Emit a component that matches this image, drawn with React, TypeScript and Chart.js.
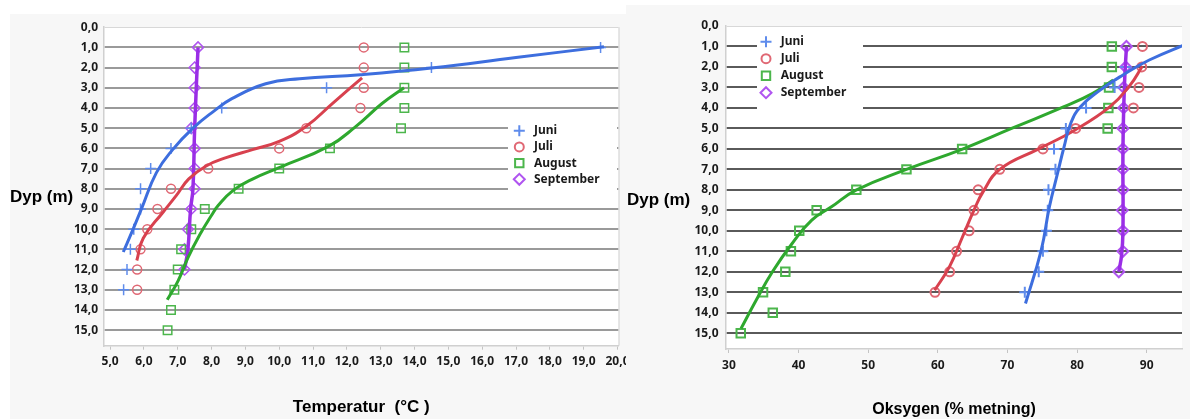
import React, { useEffect, useRef } from 'react';
import { Chart, registerables } from 'chart.js';

Chart.register(...registerables);

// ---------------- data ----------------
const depths = [1, 2, 3, 4, 5, 6, 7, 8, 9, 10, 11, 12, 13, 14, 15];
const months = ['Juni', 'Juli', 'August', 'September'];

// Temperature (°C) measurements per depth
const tempJuni = [19.5, 14.5, 11.4, 8.3, 7.4, 6.8, 6.2, 5.9, 5.9, 5.7, 5.6, 5.5, 5.4, null, null];
const tempJuli = [12.5, 12.5, 12.5, 12.4, 10.8, 10.0, 7.9, 6.8, 6.4, 6.1, 5.9, 5.8, 5.8, null, null];
const tempAugust = [13.7, 13.7, 13.7, 13.7, 13.6, 11.5, 10.0, 8.8, 7.8, 7.4, 7.1, 7.0, 6.9, 6.8, 6.7];
const tempSeptember = [7.6, 7.5, 7.5, 7.5, 7.4, 7.5, 7.5, 7.5, 7.4, 7.3, 7.2, 7.2, null, null, null];

// Temperature trend curves (value, depth)
const tempJuniFitT = [19.6, 17.0, 14.5, 12.4, 10.6, 9.6, 8.6, 8.04, 7.45, 6.85, 6.37, 5.93, 5.69, 5.39];
const tempJuniFitD = [0.97, 1.5, 2.02, 2.35, 2.55, 2.8, 3.54, 4.19, 5.0, 6.06, 7.2, 8.98, 9.96, 11.13];
const tempJuliFitT = [12.45, 11.57, 10.79, 10.0, 9.21, 8.43, 7.84, 7.32, 6.96, 6.57, 5.98, 5.79];
const tempJuliFitD = [2.51, 3.78, 4.92, 5.65, 6.06, 6.46, 6.87, 7.52, 8.33, 9.15, 10.45, 11.55];
const tempAugustFitT = [13.69, 13.04, 12.26, 11.47, 10.0, 9.21, 8.63, 8.2, 8.0, 7.65, 7.3, 7.01, 6.69];
const tempAugustFitD = [3.0, 3.78, 4.92, 5.89, 6.95, 7.52, 8.09, 8.82, 9.31, 10.28, 11.42, 12.56, 13.5];
const tempSeptemberFitT = [7.6, 7.5, 7.45, 7.38, 7.3, 7.2];
const tempSeptemberFitD = [1.0, 5.0, 8.0, 9.0, 11.0, 12.0];

// Oxygen (% saturation) measurements per depth
const oxyJuni = [null, 87.0, 85.4, 81.3, 78.4, 76.7, 76.9, 75.9, 75.8, 75.6, 75.1, 74.5, 72.5, null, null];
const oxyJuli = [89.4, 89.3, 88.9, 88.1, 79.8, 75.1, 68.9, 65.8, 65.2, 64.5, 62.7, 61.7, 59.6, null, null];
const oxyAugust = [85.0, 85.0, 84.6, 84.5, 84.4, 63.5, 55.5, 48.3, 42.6, 40.1, 38.9, 38.1, 34.9, 36.3, 31.7];
const oxySeptember = [87.1, 87.0, 86.7, 86.7, 86.6, 86.6, 86.6, 86.6, 86.5, 86.6, 86.6, 86.0, null, null, null];

// Oxygen trend curves (value, depth)
const oxyJuniFitO = [96.0, 90.38, 86.61, 83.32, 80.5, 79.1, 78.14, 77.2, 76.03, 74.86, 72.6];
const oxyJuniFitD = [0.84, 1.66, 2.39, 3.13, 3.94, 4.75, 5.9, 7.2, 8.83, 10.94, 13.55];
const oxyJuliFitO = [89.4, 87.6, 84.74, 79.6, 74.5, 68.9, 66.5, 65.2, 63.56, 61.67, 59.55];
const oxyJuliFitD = [1.95, 2.9, 3.94, 5.1, 6.0, 7.0, 8.1, 8.99, 10.29, 11.76, 12.9];
const oxyAugustFitO = [85.2, 82.2, 78.14, 70.6, 63.46, 55.5, 48.26, 44.73, 41.9, 39.08, 36.25, 33.91, 31.74];
const oxyAugustFitD = [2.64, 3.3, 3.94, 5.0, 6.02, 7.0, 8.01, 8.83, 9.48, 10.62, 12.0, 13.39, 14.77];
const oxySeptemberFitO = [87.1, 86.8, 86.6, 86.6, 86.4, 86.0];
const oxySeptemberFitD = [1.0, 3.0, 6.0, 10.0, 11.2, 12.0];

// ---------------- styles ----------------
const markerColors = ['#5f8cec', '#e06874', '#4cb64c', '#b055f0'];
const lineColors = ['#3d6ede', '#d8414e', '#2ea82e', '#9a2ee6'];
const styles = ['cross', 'circle', 'rect', 'rectRot'];
const markerRadius = [5.5, 4.5, 6, 5.5];

const tickFont = { family: '"Noto Sans", "DejaVu Sans", sans-serif', size: 12, weight: 'bold' as const };
const comma1 = (v: any) => Number(v).toFixed(1).replace('.', ',');

function pts(vals: (number | null)[]) {
  const out: { x: number; y: number }[] = [];
  vals.forEach((v, i) => {
    if (v !== null) out.push({ x: v, y: depths[i] });
  });
  return out;
}
function fit(xs: number[], ds: number[]) {
  return xs.map((x, i) => ({ x, y: ds[i] }));
}

function drawSymbol(ctx: CanvasRenderingContext2D, style: string, x: number, y: number, color: string, lw: number) {
  ctx.save();
  ctx.strokeStyle = color;
  ctx.lineWidth = lw;
  ctx.beginPath();
  if (style === 'cross') {
    ctx.moveTo(x - 5.5, y); ctx.lineTo(x + 5.5, y);
    ctx.moveTo(x, y - 5.5); ctx.lineTo(x, y + 5.5);
  } else if (style === 'circle') {
    ctx.arc(x, y, 4.5, 0, Math.PI * 2);
  } else if (style === 'rect') {
    ctx.rect(x - 4.2, y - 4.2, 8.4, 8.4);
  } else {
    ctx.moveTo(x - 5.5, y); ctx.lineTo(x, y - 5.5); ctx.lineTo(x + 5.5, y); ctx.lineTo(x, y + 5.5); ctx.closePath();
  }
  ctx.stroke();
  ctx.restore();
}

type Decor = { box: number[]; symX: number; textX: number; y0: number; dy: number; rightLine: boolean };

function decorPlugin(d: Decor) {
  return {
    id: 'decor',
    beforeDraw(chart: any) {
      const { ctx, chartArea: a } = chart;
      ctx.save();
      ctx.fillStyle = '#ffffff';
      ctx.fillRect(a.left, a.top, a.right - a.left, a.bottom - a.top);
      ctx.restore();
    },
    afterDraw(chart: any) {
      const { ctx, chartArea: a } = chart;
      ctx.save();
      if (d.rightLine) {
        ctx.strokeStyle = '#d0d0d0';
        ctx.lineWidth = 1;
        ctx.beginPath();
        ctx.moveTo(a.right + 0.5, a.top);
        ctx.lineTo(a.right + 0.5, a.bottom);
        ctx.stroke();
      }
      ctx.fillStyle = '#ffffff';
      ctx.fillRect(d.box[0], d.box[1], d.box[2], d.box[3]);
      months.forEach((m, i) => {
        const y = d.y0 + i * d.dy;
        drawSymbol(ctx, styles[i], d.symX, y, markerColors[i], 2);
        ctx.fillStyle = '#1a1a1a';
        ctx.font = 'bold 12px "Noto Sans", "DejaVu Sans", sans-serif';
        ctx.textBaseline = 'middle';
        ctx.textAlign = 'left';
        ctx.fillText(m, d.textX, y);
      });
      ctx.restore();
    },
  };
}

function buildDatasets(measured: (number | null)[][], fits: { x: number; y: number }[][], markerBw: number) {
  const ds: any[] = [];
  fits.forEach((f, i) => {
    ds.push({
      label: months[i] + ' trend',
      data: f,
      showLine: true,
      borderColor: lineColors[i],
      borderWidth: i === 3 ? 3.5 : 3,
      pointRadius: 0,
      tension: 0.45,
      fill: false,
      order: 1,
    });
  });
  measured.forEach((vals, i) => {
    ds.push({
      label: months[i],
      data: pts(vals),
      showLine: false,
      pointStyle: styles[i],
      pointRadius: markerRadius[i],
      pointBorderColor: markerColors[i],
      pointBackgroundColor: 'rgba(0,0,0,0)',
      pointBorderWidth: markerBw,
      order: 2,
    });
  });
  return ds;
}

function yScale(width: number, gridDark: string, pad: number) {
  return {
    type: 'linear',
    position: 'left',
    reverse: true,
    min: 0,
    max: 15.77,
    ticks: { stepSize: 1, includeBounds: false, autoSkip: false, callback: comma1, font: tickFont, color: '#1a1a1a', padding: pad },
    grid: {
      drawTicks: false,
      color: (c: any) => (c.tick && c.tick.value === 0 ? '#d8d8d8' : gridDark),
      lineWidth: (c: any) => (c.tick && c.tick.value === 0 ? 1 : 2),
    },
    border: { color: '#d0d0d0', width: 1.5 },
    afterFit: (s: any) => { s.width = width; },
  };
}

function tempConfig(): any {
  return {
    type: 'scatter',
    data: {
      datasets: buildDatasets(
        [tempJuni, tempJuli, tempAugust, tempSeptember],
        [fit(tempJuniFitT, tempJuniFitD), fit(tempJuliFitT, tempJuliFitD), fit(tempAugustFitT, tempAugustFitD), fit(tempSeptemberFitT, tempSeptemberFitD)],
        1.5
      ),
    },
    options: {
      animation: false,
      responsive: false,
      events: [],
      layout: { padding: { left: 0, right: 4.5, top: 8.5, bottom: 0 } },
      plugins: { legend: { display: false }, tooltip: { enabled: false } },
      scales: {
        x: {
          type: 'linear',
          position: 'bottom',
          min: 4.82,
          max: 20.03,
          ticks: { stepSize: 1, includeBounds: false, autoSkip: false, maxRotation: 0, callback: comma1, font: tickFont, color: '#1a1a1a', padding: 5 },
          grid: { drawOnChartArea: false, drawTicks: true, tickLength: 4, color: '#c4c4c4' },
          border: { color: '#d0d0d0', width: 1.5 },
          title: {
            display: true,
            text: 'Temperatur  (°C )',
            color: '#000',
            font: { family: '"Liberation Sans", Arial, sans-serif', size: 17, weight: 'bold' },
            padding: { top: 0, bottom: 1.8 },
          },
          afterFit: (s: any) => { s.height = 73.3; s.paddingLeft = 0; s.paddingRight = 0; },
        },
        y: yScale(94, '#9a9a9a', 6),
      },
    },
    plugins: [decorPlugin({ box: [498, 106, 109, 70], symX: 509.3, textX: 524, y0: 116.7, dy: 16.2, rightLine: true })],
  };
}

function oxyConfig(): any {
  return {
    type: 'scatter',
    data: {
      datasets: buildDatasets(
        [oxyJuni, oxyJuli, oxyAugust, oxySeptember],
        [fit(oxyJuniFitO, oxyJuniFitD), fit(oxyJuliFitO, oxyJuliFitD), fit(oxyAugustFitO, oxyAugustFitD), fit(oxySeptemberFitO, oxySeptemberFitD)],
        2
      ),
    },
    options: {
      animation: false,
      responsive: false,
      events: [],
      layout: { padding: { left: 0, right: 0, top: 21, bottom: 0 } },
      plugins: { legend: { display: false }, tooltip: { enabled: false } },
      scales: {
        x: {
          type: 'linear',
          position: 'bottom',
          min: 29.58,
          max: 95.08,
          ticks: { stepSize: 10, includeBounds: false, autoSkip: false, maxRotation: 0, font: tickFont, color: '#1a1a1a', padding: 5.5 },
          grid: { drawOnChartArea: false, drawTicks: true, tickLength: 4, color: '#c4c4c4' },
          border: { color: '#d0d0d0', width: 1.5 },
          title: {
            display: true,
            text: 'Oksygen (% metning)',
            color: '#000',
            font: { family: '"Liberation Sans", Arial, sans-serif', size: 16, weight: 'bold' },
            padding: { top: 0, bottom: 0 },
          },
          afterFit: (s: any) => { s.height = 70; s.paddingLeft = 0; s.paddingRight = 0; },
        },
        y: yScale(100, '#5a5a5a', 7.5),
      },
    },
    plugins: [decorPlugin({ box: [131, 22, 106, 88], symX: 140, textX: 154.7, y0: 36.7, dy: 17, rightLine: false })],
  };
}

function Panel(props: { left: number; top: number; width: number; height: number; build: () => any }) {
  const ref = useRef<HTMLCanvasElement>(null);
  useEffect(() => {
    const chart = new Chart(ref.current as HTMLCanvasElement, props.build());
    return () => chart.destroy();
  }, []);
  return (
    <div style={{ position: 'absolute', left: props.left, top: props.top, width: props.width, height: props.height, background: '#f7f7f7' }}>
      <canvas ref={ref} width={props.width} height={props.height} style={{ display: 'block' }} />
    </div>
  );
}

const titleStyle: React.CSSProperties = {
  position: 'absolute',
  font: 'bold 17px "Liberation Sans", Arial, sans-serif',
  lineHeight: '20px',
  color: '#000',
  whiteSpace: 'nowrap',
};

export default function App() {
  return (
    <div style={{ position: 'absolute', left: 0, top: 0, width: 1190, height: 419, background: '#ffffff', overflow: 'hidden' }}>
      <Panel left={10} top={14} width={616} height={405} build={tempConfig} />
      <Panel left={626} top={5} width={564} height={414} build={oxyConfig} />
      <div style={{ ...titleStyle, left: 10, top: 187.4 }}>Dyp (m)</div>
      <div style={{ ...titleStyle, left: 627, top: 190.1 }}>Dyp (m)</div>
    </div>
  );
}
